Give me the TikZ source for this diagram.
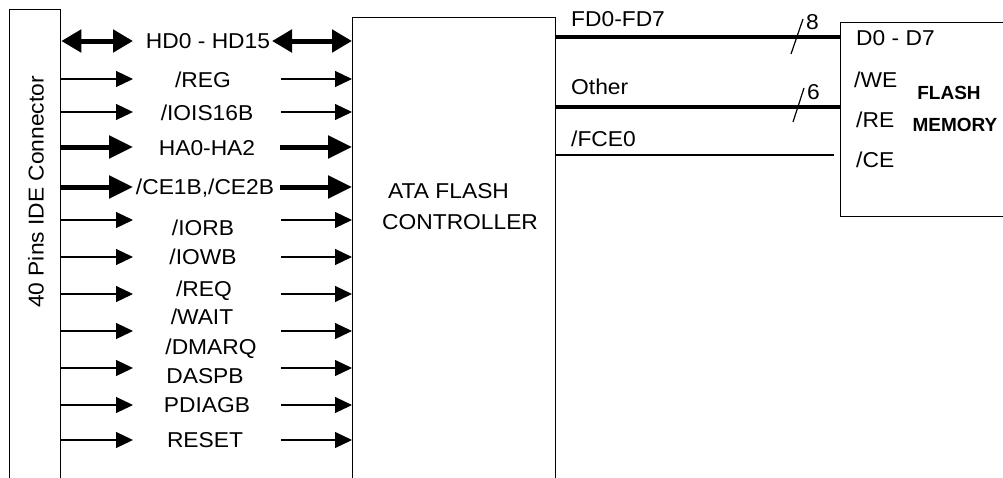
\documentclass[tikz,border=0pt]{standalone}
\usepackage{fontspec}
\setmainfont{Liberation Sans}[FakeStretch=1.06]
\newfontfamily\memfont{Liberation Sans}
\usetikzlibrary{arrows.meta}
\begin{document}
\begin{tikzpicture}[x=1pt,y=-1pt,
  thinarr/.style={line width=1.2pt, -{Triangle[length=17pt,width=16pt]}},
  thickarr/.style={line width=5pt, -{Triangle[length=24pt,width=22pt]}},
  dblarr/.style={line width=5pt, {Triangle[length=20pt,width=22pt]}-{Triangle[length=20pt,width=22pt]}},
  bus/.style={line width=3.5pt},
  wire/.style={line width=1.2pt},
  box/.style={draw, line width=1.3pt, inner sep=0, anchor=north west},
  lbl/.style={inner sep=0, font=\fontsize{21.5}{24}\selectfont, text height=15.4pt, text depth=0pt},
  boldlbl/.style={inner sep=0, font=\memfont\bfseries\fontsize{19}{22}\selectfont, text height=13.6pt, text depth=0pt},
]
\useasboundingbox (0,0) rectangle (1003,477);
\fill[white] (0,0) rectangle (1003,477);

% boxes
\node[box, minimum width=51pt, minimum height=480pt] (conn) at (9,9) {};
\node[box, minimum width=203pt, minimum height=475pt] (ctrl) at (352,17) {};
\node[box, minimum width=175pt, minimum height=194pt] (flash) at (840,22) {};

\node[lbl, rotate=90] (connlbl) at (36,192) {40 Pins IDE Connector};
\node[lbl, anchor=west] (ctrl1) at (388,191) {ATA FLASH};
\node[lbl, anchor=west] (ctrl2) at (382,222) {CONTROLLER};

% left side signals
\coordinate (Lhd) at (133,41);
\coordinate (Rhd) at (272,41);
\draw[dblarr] (conn.east |- Lhd) -- (Lhd);
\draw[dblarr] (Rhd) -- (ctrl.west |- Rhd);

\foreach \y/\n in {147/ha,187/ce}{
  \coordinate (L\n) at (133,\y);
  \coordinate (R\n) at (280,\y);
  \draw[thickarr] (conn.east |- L\n) -- (L\n);
  \draw[thickarr] (R\n) -- (ctrl.west |- R\n);
}
\foreach \y/\n in {79/reg,112/iois,220/iorb,257/iowb,294/req,331/dmarq,368/daspb,405/pdiag,440/reset}{
  \coordinate (L\n) at (133,\y);
  \coordinate (R\n) at (281,\y);
  \draw[thinarr] (conn.east |- L\n) -- (L\n);
  \draw[thinarr] (R\n) -- (ctrl.west |- R\n);
}

\node[lbl, fill=white, inner xsep=1pt] (thd) at (208,41) {HD0 - HD15};
\node[lbl] (treg) at (203,80) {/REG};
\node[lbl] (tiois) at (207,113) {/IOIS16B};
\node[lbl] (tha) at (207,148) {HA0-HA2};
\node[lbl, fill=white, inner xsep=1pt] (tce) at (205,187) {/CE1B,/CE2B};
\node[lbl] (tiorb) at (203,228) {/IORB};
\node[lbl] (tiowb) at (203,257) {/IOWB};
\node[lbl] (treq) at (204,289) {/REQ};
\node[lbl] (twait) at (202,317) {/WAIT};
\node[lbl] (tdmarq) at (211,347) {/DMARQ};
\node[lbl] (tdaspb) at (205,376) {DASPB};
\node[lbl] (tpdiag) at (207,405) {PDIAGB};
\node[lbl] (treset) at (205,440) {RESET};

% right side
\coordinate (fd) at (700,37);
\coordinate (oth) at (700,107);
\coordinate (fce) at (834,155);
\draw[bus] (ctrl.east |- fd) -- (flash.west |- fd);
\draw[bus] (ctrl.east |- oth) -- (flash.west |- oth);
\draw[wire] (ctrl.east |- fce) -- (fce);

\node[lbl, anchor=west] (tfd) at (571,19) {FD0-FD7};
\node[lbl, anchor=west] (toth) at (571,87) {Other};
\node[lbl, anchor=west] (tfce) at (571,139) {/FCE0};

\draw[wire] (791,54) -- (803,19);
\draw[wire] (793,122) -- (804,88);
\node[lbl, anchor=west] (t8) at (806,22) {8};
\node[lbl, anchor=west] (t6) at (807,92) {6};

% flash box labels
\node[lbl, anchor=west] (fd0) at (856,38) {D0 - D7};
\node[lbl, anchor=west] (fwe) at (854,80) {/WE};
\node[lbl, anchor=west] (fre) at (856,120) {/RE};
\node[lbl, anchor=west] (fce0) at (856,160) {/CE};
\node[boldlbl] (fl1) at (949,93) {FLASH};
\node[boldlbl] (fl2) at (955,125) {MEMORY};
\end{tikzpicture}
\end{document}
